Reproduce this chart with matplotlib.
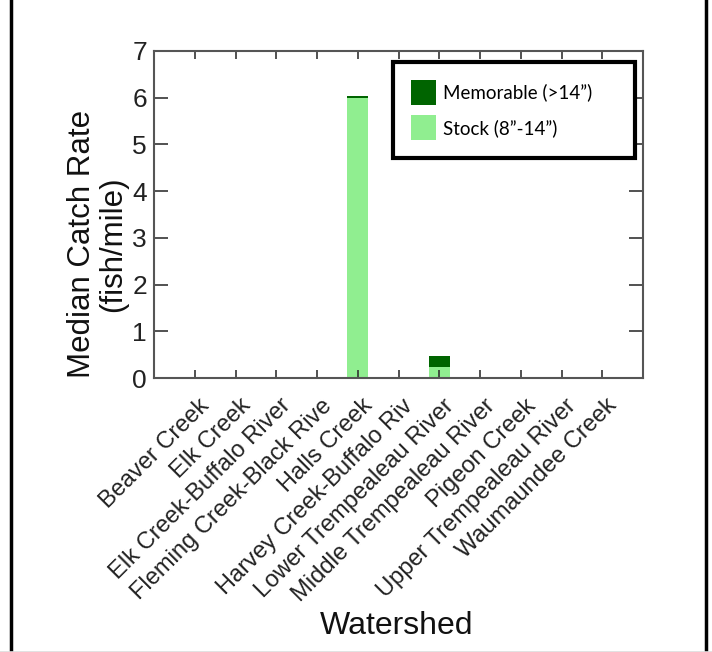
import matplotlib
matplotlib.use("Agg")
import matplotlib.pyplot as plt
from matplotlib.lines import Line2D
import numpy as np

watersheds = ["Beaver Creek", "Elk Creek", "Elk Creek-Buffalo River",
              "Fleming Creek-Black Rive", "Halls Creek", "Harvey Creek-Buffalo Riv",
              "Lower Trempealeau River", "Middle Trempealeau River", "Pigeon Creek",
              "Upper Trempealeau River", "Waumaundee Creek"]
stock = [0, 0, 0, 0, 6.0, 0, 0.23, 0, 0, 0, 0]
memorable = [0, 0, 0, 0, 0.03, 0, 0.24, 0, 0, 0, 0]
yticks = [0, 1, 2, 3, 4, 5, 6, 7]

plt.rcParams['font.family'] = ['Liberation Sans', 'DejaVu Sans']

fig = plt.figure(figsize=(7.12, 6.52), dpi=100)
ax = fig.add_axes([0.2163, 0.4202, 0.9031 - 0.2163, 0.9218 - 0.4202])

x = np.arange(1, len(watersheds) + 1)
b1 = ax.bar(x, stock, width=0.52, color='#90EE90', label='Stock (8\u201d-14\u201d)')
b2 = ax.bar(x, memorable, width=0.52, bottom=stock, color='#006400',
            label='Memorable (>14\u201d)')

ax.set_xlim(0, 12)
ax.set_ylim(0, 7)
ax.set_yticks(yticks)
ax.set_yticklabels([str(v) for v in yticks], fontsize=19)

# tick marks at the categories (minor), labels shifted slightly right (major)
ax.set_xticks(x, minor=True)
ax.set_xticks(x + 0.47)
ax.set_xticklabels(watersheds, fontsize=17, rotation=45, ha='right', va='top')

ax.tick_params(axis='x', which='major', length=0, top=False, pad=12,
               labelcolor='#222222')
ax.tick_params(axis='x', which='minor', direction='in', length=6, width=1.2,
               top=True, colors='#333333')
ax.tick_params(axis='y', direction='in', length=10, width=1.2, right=True,
               pad=5, colors='#333333', labelcolor='#222222')

for s in ax.spines.values():
    s.set_color('#555555')
    s.set_linewidth(1.5)

ax.set_ylabel("Median Catch Rate\n(fish/mile)", fontsize=22.5, linespacing=1.05,
              color='#111111')
ax.yaxis.set_label_coords(-0.052, 0.41)
ax.set_xlabel("Watershed", fontsize=23, color='#111111')
ax.xaxis.set_label_coords(0.497, -0.712)

leg = ax.legend(handles=[b2, b1], loc='upper left',
                bbox_to_anchor=(0.489, 0.966, 0.495, 0.0), mode='expand',
                prop={'family': ['Lato', 'DejaVu Sans'], 'size': 13.5},
                handlelength=1.33, handleheight=1.67, handletextpad=0.4,
                labelspacing=0.55, borderpad=0.95, borderaxespad=0,
                fancybox=False, framealpha=1)
leg.get_frame().set_edgecolor('black')
leg.get_frame().set_linewidth(3)

fig.add_artist(Line2D([11 / 712, 11 / 712], [0, 1], color='black', lw=2.5,
                      transform=fig.transFigure))
fig.add_artist(Line2D([706 / 712, 706 / 712], [0, 1], color='black', lw=2.5,
                      transform=fig.transFigure))
fig.add_artist(Line2D([0, 1], [0.5 / 652, 0.5 / 652], color='#dddddd', lw=1.2,
                      transform=fig.transFigure))

fig.savefig("out.png", dpi=100)
